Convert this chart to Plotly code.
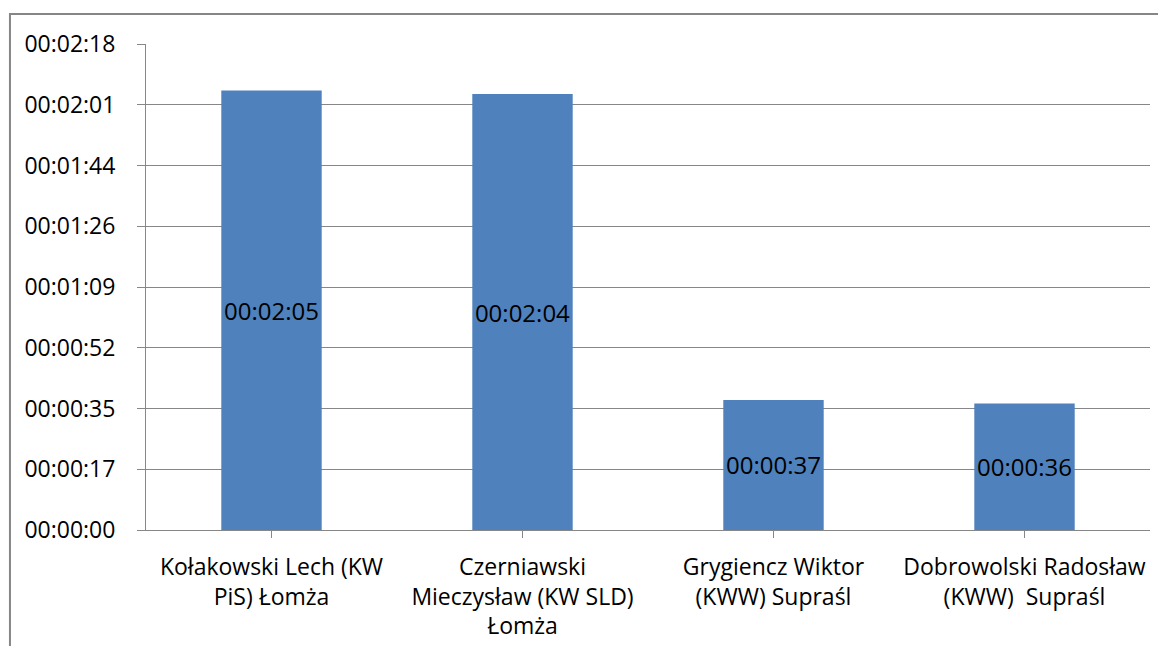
import plotly.graph_objects as go

categories = [
    "Kołakowski Lech (KW<br>PiS) Łomża",
    "Czerniawski<br>Mieczysław (KW SLD)<br>Łomża",
    "Grygiencz Wiktor<br>(KWW) Supraśl",
    "Dobrowolski Radosław<br>(KWW)  Supraśl",
]
durations_sec = [125, 124, 37, 36]
ytick_vals = [0, 17.28, 34.56, 51.84, 69.12, 86.4, 103.68, 120.96, 138.24]
ytick_text = ["00:00:00", "00:00:17", "00:00:35", "00:00:52", "00:01:09",
              "00:01:26", "00:01:44", "00:02:01", "00:02:18"]


def fmt(s):
    s = int(round(s))
    return f"{s // 3600:02d}:{(s % 3600) // 60:02d}:{s % 60:02d}"


FONT = "Open Sans"
GRID = "#878787"

fig = go.Figure(
    go.Bar(
        x=list(range(len(categories))),
        y=durations_sec,
        marker=dict(color="#4F81BD", line=dict(width=0)),
        text=[fmt(v) for v in durations_sec],
        textposition="inside",
        insidetextanchor="middle",
        constraintext="none",
        textangle=0,
        textfont=dict(family=FONT, size=24, color="#000000"),
        hoverinfo="skip",
    )
)

fig.update_layout(
    width=1150,
    height=638,
    margin=dict(l=138, r=8, t=36, b=116, autoexpand=False),
    paper_bgcolor="white",
    plot_bgcolor="white",
    bargap=0.6,
    showlegend=False,
    font=dict(family=FONT, size=23, color="#000000"),
    shapes=[
        dict(type="path", xref="paper", yref="paper",
             path="M -0.1355,-0.5 L -0.1355,1.0617 L 1.3,1.0617",
             line=dict(color="#868686", width=2),
             layer="below"),
    ],
)

fig.update_xaxes(
    range=[-0.5, len(categories) - 0.5],
    tickmode="array",
    tickvals=list(range(len(categories))),
    ticktext=categories,
    tickson="boundaries",
    ticks="outside",
    ticklen=7,
    tickcolor=GRID,
    showgrid=False,
    showline=True,
    linecolor=GRID,
    linewidth=1,
    ticklabelstandoff=9,
    automargin=False,
    tickfont=dict(family=FONT, size=23, color="#000000"),
    zeroline=False,
)

fig.update_yaxes(
    range=[0, 138.24],
    tickmode="array",
    tickvals=ytick_vals,
    ticktext=ytick_text,
    ticks="outside",
    ticklen=8,
    tickcolor=GRID,
    showgrid=True,
    gridcolor=GRID,
    gridwidth=1,
    showline=True,
    linecolor=GRID,
    linewidth=1,
    zeroline=False,
    ticklabelstandoff=17,
    automargin=False,
    tickfont=dict(family=FONT, size=23, color="#000000"),
)

fig.write_html("out.html")
